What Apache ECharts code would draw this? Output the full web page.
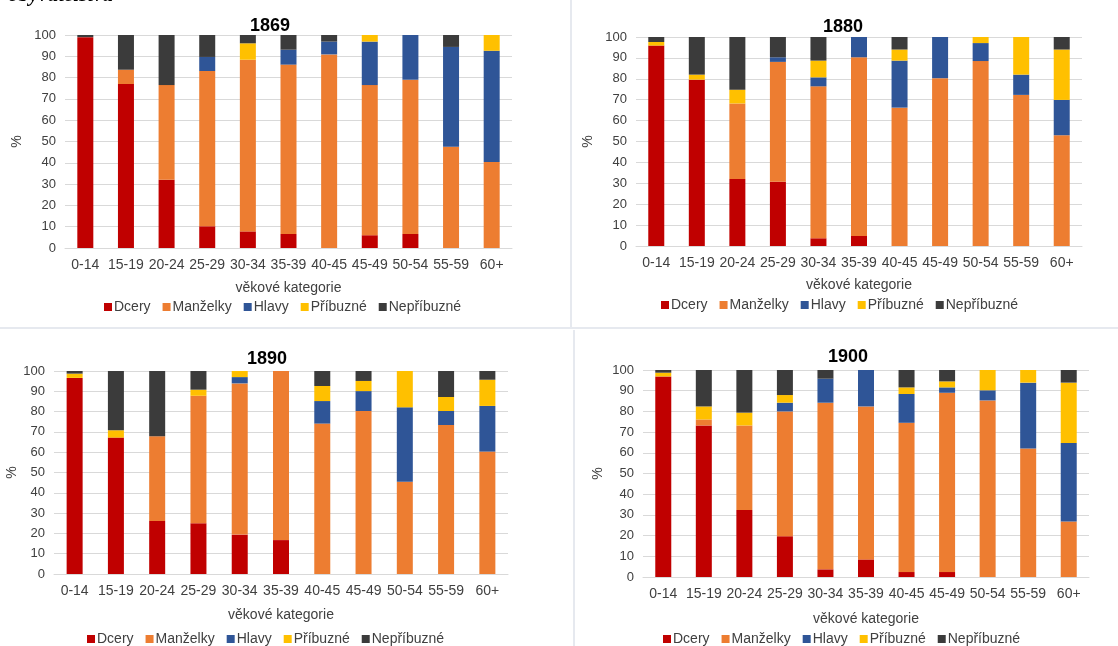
<!DOCTYPE html>
<html>
<head>
<meta charset="utf-8">
<script src="https://cdn.jsdelivr.net/npm/echarts@6/dist/echarts.min.js"></script>
<style>
  * { margin: 0; padding: 0; }
  body { background: #fff; }
  #chart { width: 1118px; height: 646px; }
</style>
</head>
<body>
<div id="chart"></div>
<script>
// age groups on the x axis
const categories = ["0-14", "15-19", "20-24", "25-29", "30-34", "35-39", "40-45", "45-49", "50-54", "55-59", "60+"];
const seriesNames = ["Dcery", "Manželky", "Hlavy", "Příbuzné", "Nepříbuzné"];
const years = ["1869", "1880", "1890", "1900"];

// shares in %
const dcery1869 = [99, 77, 32, 10.2, 7.8, 6.6, 0, 6, 6.6, 0, 0];
const manzelky1869 = [0, 6.7, 44.5, 72.9, 80.6, 79.5, 90.9, 70.5, 72.4, 47.5, 40.4];
const hlavy1869 = [0, 0, 0, 6.6, 0, 7, 6, 20.4, 21, 46.9, 52.2];
const pribuzne1869 = [0, 0, 0, 0, 7.7, 0, 0, 3.1, 0, 0, 7.4];
const nepribuzne1869 = [1, 16.3, 23.5, 10.3, 3.9, 6.9, 3.1, 0, 0, 5.6, 0];

const dcery1880 = [95.9, 79.6, 32, 30.7, 3.7, 4.8, 0, 0, 0, 0, 0];
const manzelky1880 = [0, 0, 36.2, 57.4, 72.7, 85.5, 66.2, 80.3, 88.5, 72.3, 53];
const hlavy1880 = [0, 0, 0, 2.2, 4.3, 9.7, 22.5, 19.7, 8.6, 9.7, 16.9];
const pribuzne1880 = [1.7, 2.4, 6.6, 0, 8, 0, 5.3, 0, 2.9, 18, 24.1];
const nepribuzne1880 = [2.4, 18, 25.2, 9.7, 11.3, 0, 6, 0, 0, 0, 6];

const dcery1890 = [96.6, 67.2, 26.1, 25, 19.4, 16.7, 0, 0, 0, 0, 0];
const manzelky1890 = [0, 0, 41.7, 62.8, 74.5, 83.3, 74.1, 80.3, 45.5, 73.4, 60.3];
const hlavy1890 = [0, 0, 0, 0, 3.1, 0, 11.1, 9.8, 36.6, 6.9, 22.5];
const pribuzne1890 = [2.1, 3.6, 0, 3, 3, 0, 7.4, 5, 17.9, 6.9, 12.9];
const nepribuzne1890 = [1.3, 29.2, 32.2, 9.2, 0, 0, 7.4, 4.9, 0, 12.8, 4.3];

const dcery1900 = [96.9, 73.2, 32.4, 19.7, 3.7, 8.5, 2.4, 2.4, 0, 0, 0];
const manzelky1900 = [0, 2.9, 40.8, 60.3, 80.5, 73.9, 72.1, 86.6, 85.3, 62.1, 26.8];
const hlavy1900 = [0, 0, 0, 4.2, 11.6, 17.6, 13.9, 2.6, 4.9, 31.8, 37.9];
const pribuzne1900 = [1.8, 6.3, 6.2, 3.7, 0, 0, 3.2, 2.9, 9.8, 6.1, 29.2];
const nepribuzne1900 = [1.3, 17.6, 20.6, 12.1, 4.2, 0, 8.4, 5.5, 0, 0, 6.1];

const data = [
  [dcery1869, manzelky1869, hlavy1869, pribuzne1869, nepribuzne1869],
  [dcery1880, manzelky1880, hlavy1880, pribuzne1880, nepribuzne1880],
  [dcery1890, manzelky1890, hlavy1890, pribuzne1890, nepribuzne1890],
  [dcery1900, manzelky1900, hlavy1900, pribuzne1900, nepribuzne1900],
];

const colors = ["#C00000", "#ED7D31", "#2F5597", "#FFC000", "#3B3B3B"];
const font = "Liberation Sans, Arial, sans-serif";
const textColor = "#404040";

// panel placement in px
const grids = [
  { left: 65, top: 35, width: 447, height: 213 },
  { left: 636, top: 37, width: 446, height: 209 },
  { left: 54, top: 371, width: 454, height: 203 },
  { left: 643, top: 370, width: 446, height: 207 },
];
const titlePos = [[265, 12], [838, 13], [262, 345], [843, 343]];
const legendPos = [[99, 295], [656, 293], [82, 627], [658, 627]];
const yNameGap = [41, 41, 31, 38];
const xNameGap = [33, 32, 34, 35];

const myChart = echarts.init(document.getElementById("chart"), null, { renderer: "canvas" });

const option = {
  color: colors,
  animation: false,
  textStyle: { fontFamily: font },
  title: years.map((y, i) => ({
    text: y,
    left: titlePos[i][0],
    top: titlePos[i][1],
    textAlign: "center",
    textStyle: { fontSize: 18, fontWeight: "bold", color: "#000", fontFamily: font },
  })),
  legend: years.map((y, i) => ({
    data: seriesNames,
    left: legendPos[i][0],
    top: legendPos[i][1],
    icon: "rect",
    itemWidth: 8,
    itemHeight: 8,
    itemGap: 12,
    textStyle: { fontSize: 14, color: textColor, padding: [0, 0, 0, -3] },
  })),
  grid: grids,
  xAxis: grids.map((g, i) => ({
    type: "category",
    gridIndex: i,
    data: categories,
    name: "věkové kategorie",
    nameLocation: "middle",
    nameGap: xNameGap[i],
    nameTextStyle: { fontSize: 14, color: textColor },
    axisTick: { show: false },
    axisLine: { lineStyle: { color: "#d9d9d9" } },
    axisLabel: { fontSize: 14, color: textColor, margin: 10, interval: 0 },
  })),
  yAxis: grids.map((g, i) => ({
    type: "value",
    gridIndex: i,
    min: 0,
    max: 100,
    interval: 10,
    name: "%",
    nameLocation: "middle",
    nameGap: yNameGap[i],
    nameRotate: 90,
    nameTextStyle: { fontSize: 14, color: textColor },
    axisLabel: { fontSize: 13, color: textColor, margin: 9 },
    splitLine: { lineStyle: { color: "#d9d9d9" } },
  })),
  graphic: [
    {
      type: "text",
      left: 8,
      top: -15,
      style: { text: "obyvatelstva", fontSize: 21, fontWeight: "bold", fontStyle: "italic", fontFamily: "Liberation Serif, serif", fill: "#000" },
    },
    { type: "rect", shape: { x: 570, y: 0, width: 2, height: 327 }, style: { fill: "#e6e9ef" } },
    { type: "rect", shape: { x: 0, y: 327, width: 1118, height: 2 }, style: { fill: "#e6e9ef" } },
    { type: "rect", shape: { x: 573, y: 330, width: 2, height: 316 }, style: { fill: "#e6e9ef" } },
  ],
  series: [],
};

data.forEach((panel, i) => {
  panel.forEach((values, s) => {
    option.series.push({
      name: seriesNames[s],
      type: "bar",
      stack: "p" + i,
      xAxisIndex: i,
      yAxisIndex: i,
      barWidth: 16,
      data: values,
    });
  });
});

myChart.setOption(option);
</script>
</body>
</html>
